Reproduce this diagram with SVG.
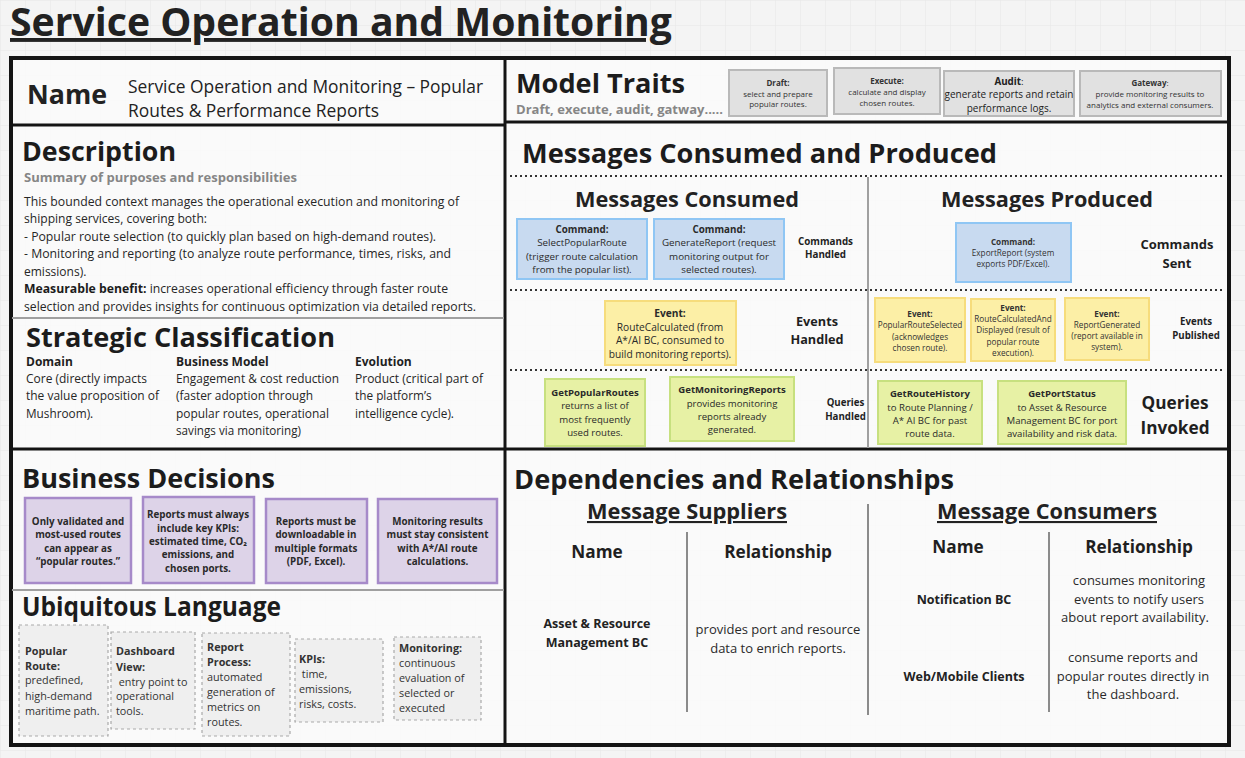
<svg xmlns="http://www.w3.org/2000/svg" width="1245" height="758" viewBox="0 0 1245 758">
<defs>
<pattern id="grid" width="25" height="25" patternUnits="userSpaceOnUse">
<path d="M25 0H0V25" fill="none" stroke="#e6e6e6" stroke-width="1"/>
</pattern>
<style>
text{font-family:"Open Sans","Noto Sans","DejaVu Sans",sans-serif;fill:#222}
.b{font-weight:700}
.c{text-anchor:middle}
.h1{font-weight:700;font-size:27px;fill:#1c1c1c}
.sub{font-weight:700;font-size:12.5px;fill:#868686}
.p{font-size:12px;fill:#262626}
.s{font-size:11.8px;fill:#262626}
.frame{fill:#fafafa;fill-opacity:0.85;stroke:#141414;stroke-width:4}
.blk{stroke:#141414;stroke-width:3}
.gry{stroke:#a0a0a0;stroke-width:2}
.dot{stroke:#333;stroke-width:2;stroke-dasharray:2 3}
.vl{stroke:#666;stroke-width:1.5}
.trait{fill:#e1e1e1;stroke:#b9b9b9;stroke-width:2}
.cmd{fill:#c8daf0;stroke:#8fc6f4;stroke-width:2}
.evt{fill:#fcefa6;stroke:#f6dc7c;stroke-width:2}
.qry{fill:#e7f1a5;stroke:#c7e07f;stroke-width:2}
.dec{fill:#ddd3e8;stroke:#a68ac9;stroke-width:2.5}
.ul{fill:#efefef;stroke:#a9a9a9;stroke-width:1.2;stroke-dasharray:3 3}
.t8{font-size:8px;fill:#333}
.t82{font-size:8.2px;fill:#333}
.t10{font-size:9.8px;fill:#2a2a2a}
.e10{font-size:10.2px;fill:#2a2a2a}
.q{font-size:9.6px;fill:#2a2a2a}
.d{font-size:9.8px;font-weight:700;fill:#2a2a2a}
.u{font-size:10.8px;fill:#333}
.dep{font-size:13px;fill:#2a2a2a}
.depb{font-size:12.5px;font-weight:700;fill:#222}
.lab{font-weight:700;fill:#1f1f1f}
</style>
</defs>
<rect width="1245" height="758" fill="#f4f4f4"/>
<rect width="1245" height="758" fill="url(#grid)"/>

<g id="title">
<text x="10" y="36" class="b" font-size="39" textLength="662" lengthAdjust="spacingAndGlyphs" style="text-decoration:underline" fill="#1c1c1c">Service Operation and Monitoring</text>
</g>

<g id="dividers">
<rect class="frame" x="11" y="58" width="1218" height="687"/>
<line class="blk" x1="505" y1="58" x2="505" y2="745"/>
<line class="blk" x1="11" y1="125" x2="505" y2="125"/>
<line class="blk" x1="505" y1="122" x2="1229" y2="122"/>
<line class="gry" x1="12" y1="318" x2="504" y2="318"/>
<line class="blk" x1="11" y1="449" x2="1229" y2="449"/>
<line class="gry" x1="12" y1="590" x2="504" y2="590"/>
<line class="dot" x1="510" y1="176" x2="1225" y2="176"/>
<line class="dot" x1="510" y1="290" x2="1225" y2="290"/>
<line class="dot" x1="510" y1="370" x2="1225" y2="370"/>
<line class="gry" x1="868" y1="177" x2="868" y2="448" stroke="#8a8a8a"/>
<line class="vl" x1="868" y1="504" x2="868" y2="715"/>
<line class="vl" x1="687" y1="532" x2="687" y2="712"/>
<line class="vl" x1="1049" y1="532" x2="1049" y2="712"/>
</g>

<g id="connectors"></g>

<g id="name-section">
<text x="27" y="104" class="b" font-size="27" textLength="80" lengthAdjust="spacingAndGlyphs" fill="#1c1c1c">Name</text>
<text x="128" y="93" font-size="17.3" fill="#2a2a2a" textLength="355" lengthAdjust="spacingAndGlyphs">Service Operation and Monitoring – Popular</text>
<text x="128" y="117" font-size="17.3" fill="#2a2a2a" textLength="251" lengthAdjust="spacingAndGlyphs">Routes &amp; Performance Reports</text>
</g>

<g id="model-traits">
<text x="516" y="93" class="h1" textLength="169" lengthAdjust="spacingAndGlyphs">Model Traits</text>
<text x="516" y="113.5" class="sub" fill="#808080" textLength="207" lengthAdjust="spacingAndGlyphs">Draft, execute, audit, gatway.....</text>
<g id="trait-draft">
<rect class="trait" x="729" y="70" width="98" height="46"/>
<text x="778" y="86" class="c t8 b" font-size="7.8">Draft:</text>
<text x="778" y="97" class="c t8" font-size="7.8">select and prepare</text>
<text x="778" y="107" class="c t8" font-size="7.8">popular routes.</text>
</g>
<g id="trait-execute">
<rect class="trait" x="834" y="68" width="106" height="46"/>
<text x="887" y="84" class="c t8 b" font-size="8.3">Execute:</text>
<text x="887" y="95" class="c t8" font-size="8.3">calculate and display</text>
<text x="887" y="106" class="c t8" font-size="8.3">chosen routes.</text>
</g>
<g id="trait-audit">
<rect class="trait" x="944" y="71" width="130" height="45"/>
<text x="1009" y="85" class="c" font-size="9.8" fill="#2a2a2a"><tspan font-weight="700">Audit</tspan>:</text>
<text x="1009" y="98" class="c" font-size="10" fill="#2a2a2a">generate reports and retain</text>
<text x="1009" y="112" class="c" font-size="10" fill="#2a2a2a">performance logs.</text>
</g>
<g id="trait-gateway">
<rect class="trait" x="1080" y="71" width="141" height="45"/>
<text x="1150" y="86" class="c t8"><tspan font-weight="700">Gateway</tspan>:</text>
<text x="1150" y="97" class="c t8">provide monitoring results to</text>
<text x="1150" y="108" class="c t8">analytics and external consumers.</text>
</g>
</g>

<g id="description">
<text x="22" y="161" class="h1" textLength="154" lengthAdjust="spacingAndGlyphs">Description</text>
<text x="24" y="182" class="sub" textLength="273" lengthAdjust="spacingAndGlyphs">Summary of purposes and responsibilities</text>
<text x="24" y="206" class="p" textLength="435" lengthAdjust="spacingAndGlyphs">This bounded context manages the operational execution and monitoring of</text>
<text x="24" y="223" class="p" textLength="183" lengthAdjust="spacingAndGlyphs">shipping services, covering both:</text>
<text x="24" y="241" class="p" textLength="412" lengthAdjust="spacingAndGlyphs">- Popular route selection (to quickly plan based on high-demand routes).</text>
<text x="24" y="258" class="p" textLength="427" lengthAdjust="spacingAndGlyphs">- Monitoring and reporting (to analyze route performance, times, risks, and</text>
<text x="24" y="276" class="p">emissions).</text>
<text x="24" y="293" class="p" textLength="424" lengthAdjust="spacingAndGlyphs"><tspan font-weight="700" fill="#1c1c1c">Measurable benefit:</tspan> increases operational efficiency through faster route</text>
<text x="24" y="311" class="p" textLength="452" lengthAdjust="spacingAndGlyphs">selection and provides insights for continuous optimization via detailed reports.</text>
</g>

<g id="strategic-classification">
<text x="26" y="347" class="h1" textLength="309" lengthAdjust="spacingAndGlyphs">Strategic Classification</text>
<text x="26" y="366" class="lab" font-size="12">Domain</text>
<text x="26" y="383" class="s" textLength="121" lengthAdjust="spacingAndGlyphs">Core (directly impacts</text>
<text x="26" y="400" class="s" textLength="133" lengthAdjust="spacingAndGlyphs">the value proposition of</text>
<text x="26" y="418" class="s">Mushroom).</text>
<text x="176" y="366" class="lab" font-size="12">Business Model</text>
<text x="176" y="383" class="s" textLength="163" lengthAdjust="spacingAndGlyphs">Engagement &amp; cost reduction</text>
<text x="176" y="400" class="s" textLength="137" lengthAdjust="spacingAndGlyphs">(faster adoption through</text>
<text x="176" y="418" class="s" textLength="153" lengthAdjust="spacingAndGlyphs">popular routes, operational</text>
<text x="176" y="435" class="s" textLength="125" lengthAdjust="spacingAndGlyphs">savings via monitoring)</text>
<text x="355" y="366" class="lab" font-size="12">Evolution</text>
<text x="355" y="383" class="s" textLength="128" lengthAdjust="spacingAndGlyphs">Product (critical part of</text>
<text x="355" y="400" class="s">the platform’s</text>
<text x="355" y="418" class="s">intelligence cycle).</text>
</g>

<g id="business-decisions">
<text x="22" y="488" class="h1" font-size="26" textLength="253" lengthAdjust="spacingAndGlyphs">Business Decisions</text>
<g id="decision-1">
<rect class="dec" x="25" y="498" width="106" height="85"/>
<text x="78" y="525" class="c d">Only validated and</text>
<text x="78" y="538" class="c d">most-used routes</text>
<text x="78" y="552" class="c d">can appear as</text>
<text x="78" y="565" class="c d">“popular routes.”</text>
</g>
<g id="decision-2">
<rect class="dec" x="143" y="497" width="111" height="86"/>
<text x="198" y="518" class="c d">Reports must always</text>
<text x="198" y="532" class="c d">include key KPIs:</text>
<text x="198" y="545" class="c d">estimated time, CO₂</text>
<text x="198" y="558" class="c d">emissions, and</text>
<text x="198" y="572" class="c d">chosen ports.</text>
</g>
<g id="decision-3">
<rect class="dec" x="266" y="499" width="101" height="84"/>
<text x="316" y="525" class="c d">Reports must be</text>
<text x="316" y="538" class="c d">downloadable in</text>
<text x="316" y="552" class="c d">multiple formats</text>
<text x="316" y="565" class="c d">(PDF, Excel).</text>
</g>
<g id="decision-4">
<rect class="dec" x="378" y="499" width="119" height="84"/>
<text x="437.5" y="525" class="c d">Monitoring results</text>
<text x="437.5" y="538" class="c d">must stay consistent</text>
<text x="437.5" y="552" class="c d">with A*/AI route</text>
<text x="437.5" y="565" class="c d">calculations.</text>
</g>
</g>

<g id="ubiquitous-language">
<text x="22" y="616" class="h1" font-size="26" textLength="259" lengthAdjust="spacingAndGlyphs">Ubiquitous Language</text>
<g id="ul-popular-route">
<rect class="ul" x="19" y="625" width="89" height="111"/>
<text x="25" y="655" class="u b" fill="#222">Popular</text>
<text x="25" y="670" class="u b" fill="#222">Route:</text>
<text x="25" y="684" class="u">predefined,</text>
<text x="25" y="700" class="u">high-demand</text>
<text x="25" y="715" class="u">maritime path.</text>
</g>
<g id="ul-dashboard-view">
<rect class="ul" x="111" y="632" width="84" height="97"/>
<text x="116" y="655" class="u b" fill="#222">Dashboard</text>
<text x="116" y="671" class="u b" fill="#222">View:</text>
<text x="116" y="686" class="u" xml:space="preserve"> entry point to</text>
<text x="116" y="700" class="u">operational</text>
<text x="116" y="715" class="u">tools.</text>
</g>
<g id="ul-report-process">
<rect class="ul" x="202" y="633" width="88" height="103"/>
<text x="207" y="651" class="u b" fill="#222">Report</text>
<text x="207" y="666" class="u b" fill="#222">Process:</text>
<text x="207" y="681" class="u">automated</text>
<text x="207" y="696" class="u">generation of</text>
<text x="207" y="711" class="u">metrics on</text>
<text x="207" y="726" class="u">routes.</text>
</g>
<g id="ul-kpis">
<rect class="ul" x="295" y="639" width="88" height="83"/>
<text x="299" y="663" class="u b" fill="#222">KPIs:</text>
<text x="299" y="678" class="u" xml:space="preserve"> time,</text>
<text x="299" y="693" class="u">emissions,</text>
<text x="299" y="708" class="u">risks, costs.</text>
</g>
<g id="ul-monitoring">
<rect class="ul" x="394" y="637" width="87" height="83"/>
<text x="399" y="652" class="u b" fill="#222">Monitoring:</text>
<text x="399" y="667" class="u">continuous</text>
<text x="399" y="682" class="u">evaluation of</text>
<text x="399" y="697" class="u">selected or</text>
<text x="399" y="712" class="u">executed</text>
</g>
</g>

<g id="messages">
<text x="522" y="163" class="h1" textLength="475" lengthAdjust="spacingAndGlyphs">Messages Consumed and Produced</text>
<text x="687" y="207" class="c b" font-size="21.8" fill="#1c1c1c" textLength="224" lengthAdjust="spacingAndGlyphs">Messages Consumed</text>
<text x="1047" y="207" class="c b" font-size="21.8" fill="#1c1c1c" textLength="212" lengthAdjust="spacingAndGlyphs">Messages Produced</text>

<g id="cmd-select-popular-route">
<rect class="cmd" x="517" y="219" width="130" height="60"/>
<text x="582" y="233" class="c t10 b">Command:</text>
<text x="582" y="246" class="c t10">SelectPopularRoute</text>
<text x="582" y="260" class="c t10">(trigger route calculation</text>
<text x="582" y="273" class="c t10">from the popular list).</text>
</g>
<g id="cmd-generate-report">
<rect class="cmd" x="654" y="219" width="130" height="60"/>
<text x="719" y="233" class="c t10 b">Command:</text>
<text x="719" y="246" class="c t10">GenerateReport (request</text>
<text x="719" y="260" class="c t10">monitoring output for</text>
<text x="719" y="273" class="c t10">selected routes).</text>
</g>
<text x="825.5" y="245" class="c lab" font-size="9.8">Commands</text>
<text x="825.5" y="258" class="c lab" font-size="9.8">Handled</text>

<g id="cmd-export-report">
<rect class="cmd" x="956" y="223" width="115" height="59"/>
<text x="1013" y="245" class="c t82 b">Command:</text>
<text x="1013" y="256" class="c t82">ExportReport (system</text>
<text x="1013" y="267" class="c t82">exports PDF/Excel).</text>
</g>
<text x="1177" y="249" class="c lab" font-size="13">Commands</text>
<text x="1177" y="268" class="c lab" font-size="13">Sent</text>

<g id="evt-route-calculated">
<rect class="evt" x="605" y="301" width="131" height="64"/>
<text x="670" y="317" class="c e10 b">Event:</text>
<text x="670" y="331" class="c e10">RouteCalculated (from</text>
<text x="670" y="344" class="c e10">A*/AI BC, consumed to</text>
<text x="670" y="358" class="c e10">build monitoring reports).</text>
</g>
<text x="817" y="326" class="c lab" font-size="12.7">Events</text>
<text x="817" y="344" class="c lab" font-size="12.7">Handled</text>

<g id="evt-popular-route-selected">
<rect class="evt" x="875" y="298" width="90" height="64"/>
<text x="920" y="317" class="c t82 b">Event:</text>
<text x="920" y="328" class="c t82">PopularRouteSelected</text>
<text x="920" y="340" class="c t82">(acknowledges</text>
<text x="920" y="351" class="c t82">chosen route).</text>
</g>
<g id="evt-route-calculated-and-displayed">
<rect class="evt" x="971" y="299" width="84" height="62"/>
<text x="1013" y="311" class="c t82 b">Event:</text>
<text x="1013" y="322" class="c t82">RouteCalculatedAnd</text>
<text x="1013" y="333" class="c t82">Displayed (result of</text>
<text x="1013" y="345" class="c t82">popular route</text>
<text x="1013" y="356" class="c t82">execution).</text>
</g>
<g id="evt-report-generated">
<rect class="evt" x="1065" y="298" width="84" height="62"/>
<text x="1107" y="317" class="c t82 b">Event:</text>
<text x="1107" y="328" class="c t82">ReportGenerated</text>
<text x="1107" y="339" class="c t82">(report available in</text>
<text x="1107" y="350" class="c t82">system).</text>
</g>
<text x="1196" y="325" class="c lab" font-size="9.7">Events</text>
<text x="1196" y="339" class="c lab" font-size="9.7">Published</text>

<g id="qry-get-popular-routes">
<rect class="qry" x="545" y="379" width="100" height="67"/>
<text x="595" y="396" class="c q b">GetPopularRoutes</text>
<text x="595" y="409" class="c q">returns a list of</text>
<text x="595" y="423" class="c q">most frequently</text>
<text x="595" y="436" class="c q">used routes.</text>
</g>
<g id="qry-get-monitoring-reports">
<rect class="qry" x="670" y="377" width="124" height="64"/>
<text x="732" y="393" class="c q b">GetMonitoringReports</text>
<text x="732" y="407" class="c q">provides monitoring</text>
<text x="732" y="420" class="c q">reports already</text>
<text x="732" y="433" class="c q">generated.</text>
</g>
<text x="845.5" y="406" class="c lab" font-size="9.7">Queries</text>
<text x="845.5" y="420" class="c lab" font-size="9.7">Handled</text>

<g id="qry-get-route-history">
<rect class="qry" x="878" y="381" width="104" height="63"/>
<text x="930" y="397" class="c q b">GetRouteHistory</text>
<text x="930" y="411" class="c q">to Route Planning /</text>
<text x="930" y="424" class="c q">A* AI BC for past</text>
<text x="930" y="437" class="c q">route data.</text>
</g>
<g id="qry-get-port-status">
<rect class="qry" x="998" y="381" width="128" height="63"/>
<text x="1062" y="397" class="c q b">GetPortStatus</text>
<text x="1062" y="411" class="c q">to Asset &amp; Resource</text>
<text x="1062" y="424" class="c q">Management BC for port</text>
<text x="1062" y="437" class="c q">availability and risk data.</text>
</g>
<text x="1175" y="409" class="c lab" font-size="17.2">Queries</text>
<text x="1175" y="434" class="c lab" font-size="17.2">Invoked</text>
</g>

<g id="dependencies">
<text x="514" y="489" class="h1" textLength="440" lengthAdjust="spacingAndGlyphs">Dependencies and Relationships</text>
<text x="687" y="519" class="c b" font-size="21" fill="#1c1c1c" textLength="200" lengthAdjust="spacingAndGlyphs" style="text-decoration:underline">Message Suppliers</text>
<text x="1047" y="519" class="c b" font-size="21" fill="#1c1c1c" textLength="220" lengthAdjust="spacingAndGlyphs" style="text-decoration:underline">Message Consumers</text>
<g id="suppliers">
<text x="597" y="558" class="c lab" font-size="17.2">Name</text>
<text x="778" y="558" class="c lab" font-size="17.2">Relationship</text>
<g id="supplier-asset-resource">
<text x="597" y="628" class="c depb">Asset &amp; Resource</text>
<text x="597" y="647" class="c depb">Management BC</text>
<text x="778" y="634" class="c dep">provides port and resource</text>
<text x="778" y="653" class="c dep">data to enrich reports.</text>
</g>
</g>
<g id="consumers">
<text x="958" y="553" class="c lab" font-size="17.2">Name</text>
<text x="1139" y="553" class="c lab" font-size="17.2">Relationship</text>
<g id="consumer-notification">
<text x="964" y="604" class="c depb">Notification BC</text>
<text x="1139" y="585" class="c dep">consumes monitoring</text>
<text x="1139" y="604" class="c dep">events to notify users</text>
<text x="1135" y="622" class="c dep">about report availability.</text>
</g>
<g id="consumer-web-mobile">
<text x="964" y="681" class="c depb">Web/Mobile Clients</text>
<text x="1133" y="662" class="c dep">consume reports and</text>
<text x="1133" y="681" class="c dep">popular routes directly in</text>
<text x="1133" y="699" class="c dep">the dashboard.</text>
</g>
</g>
</g>
</svg>
